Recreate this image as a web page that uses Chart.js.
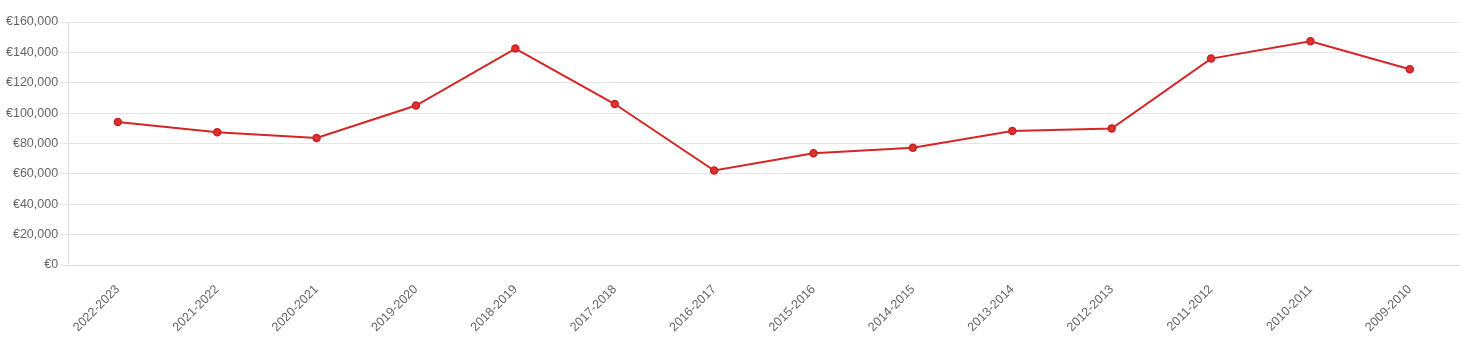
<!DOCTYPE html>
<html>
<head>
<meta charset="utf-8">
<script src="https://cdn.jsdelivr.net/npm/chart.js@4"></script>
<style>
  html, body { margin: 0; padding: 0; background: #fff; overflow: hidden; }
  #wrap { width: 1465px; height: 338px; }
</style>
</head>
<body>
<div id="wrap"><canvas id="mychart"></canvas></div>
<script>
const seasons = ['2022-2023', '2021-2022', '2020-2021', '2019-2020', '2018-2019', '2017-2018', '2016-2017',
  '2015-2016', '2014-2015', '2013-2014', '2012-2013', '2011-2012', '2010-2011', '2009-2010'];
const amounts = [94200, 87400, 83700, 105000, 142500, 106000, 62200, 73600, 77200, 88200, 89900, 135900, 147300, 128900];
const yTicks = [0, 20000, 40000, 60000, 80000, 100000, 120000, 140000, 160000];

const euro = v => '€' + v.toLocaleString('en-US');

Chart.defaults.font.family = 'Arial, "Liberation Sans", sans-serif';
Chart.defaults.font.size = 12.5;
Chart.defaults.color = '#666';

new Chart(document.getElementById('mychart'), {
  type: 'line',
  data: {
    labels: seasons,
    datasets: [{
      label: 'Amount',
      data: amounts,
      borderColor: '#d42626',
      backgroundColor: '#e03131',
      pointBorderColor: '#c92222',
      borderWidth: 2,
      pointRadius: 3.5,
      pointBorderWidth: 1.5,
      tension: 0,
      fill: false
    }]
  },
  options: {
    responsive: true,
    maintainAspectRatio: false,
    animation: false,
    layout: { padding: { top: 22, right: 0, left: 4, bottom: 0 } },
    plugins: {
      legend: { display: false },
      tooltip: { enabled: false }
    },
    scales: {
      x: {
        offset: true,
        grid: { display: false, drawTicks: false },
        border: { color: '#ddd' },
        ticks: { maxRotation: 45, minRotation: 45, color: '#666', padding: 17 },
        afterFit: s => { s.height = 73; }
      },
      y: {
        min: 0,
        max: 160000,
        afterBuildTicks: axis => { axis.ticks = yTicks.map(v => ({ value: v })); },
        grid: { color: '#e6e6e6', tickLength: 8 },
        border: { color: '#ddd' },
        ticks: { callback: v => euro(v), color: '#666', padding: 2 }
      }
    }
  }
});
</script>
</body>
</html>
